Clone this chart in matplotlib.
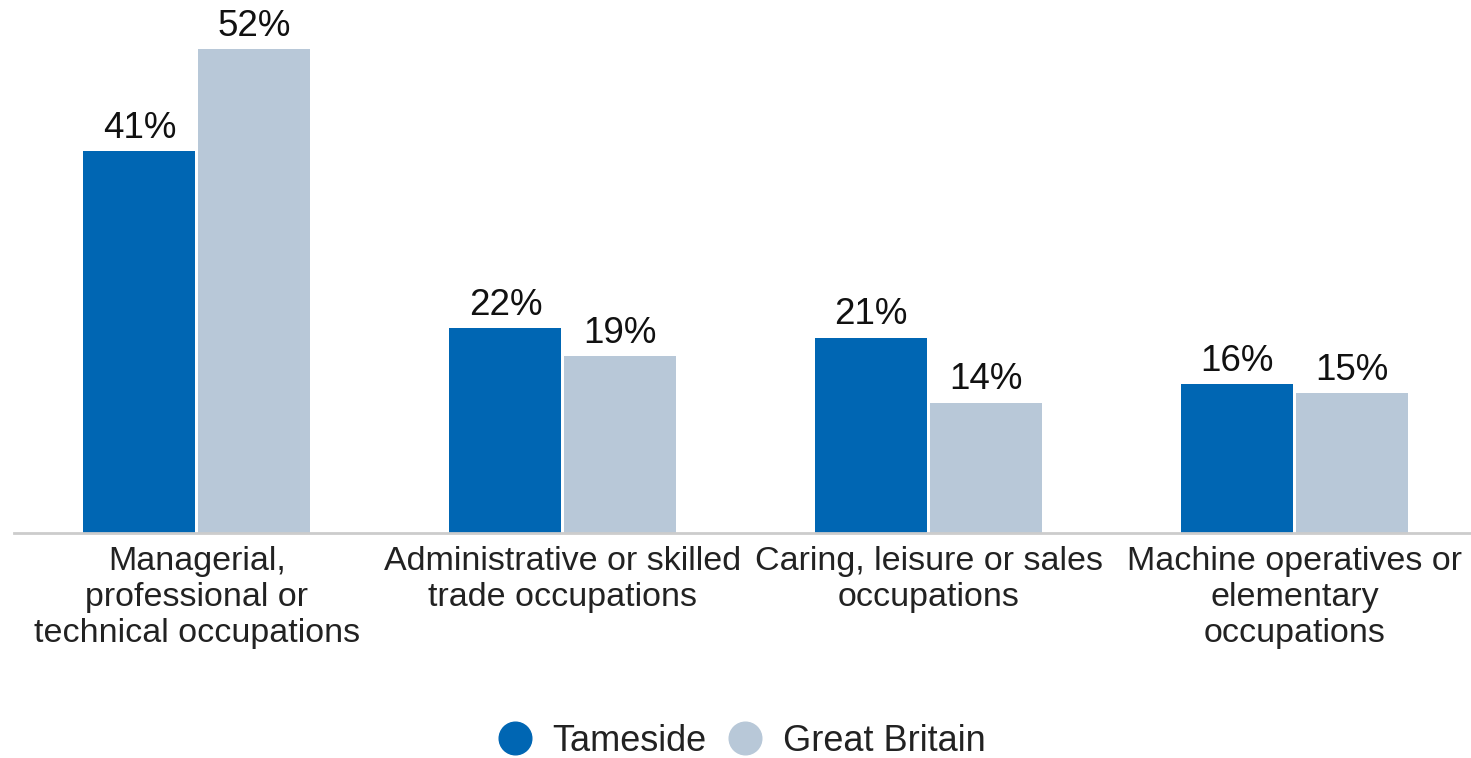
import matplotlib.pyplot as plt
import numpy as np
from matplotlib.lines import Line2D

plt.rcParams['font.family'] = ['Liberation Sans', 'DejaVu Sans']

categories = ['Managerial,\nprofessional or\ntechnical occupations',
              'Administrative or skilled\ntrade occupations',
              'Caring, leisure or sales\noccupations',
              'Machine operatives or\nelementary\noccupations']
tameside = [41, 22, 21, 16]
great_britain = [52, 19, 14, 15]
series_names = ['Tameside', 'Great Britain']
colors = ['#0066b3', '#b8c8d8']

fig = plt.figure(figsize=(14.71, 7.58), dpi=100)
ax = fig.add_axes([0.0095, 0.2968, 0.995, 0.69])

x = np.arange(len(categories))
w = 0.306
gap = 0.004
b1 = ax.bar(x - w/2 - gap, tameside, w, color=colors[0])
b2 = ax.bar(x + w/2 + gap, great_britain, w, color=colors[1])

# value labels above each bar
for bars, vals in [(b1, tameside), (b2, great_britain)]:
    for b, v in zip(bars, vals):
        ax.annotate(f'{v}%', (b.get_x() + b.get_width()/2, v),
                    xytext=(0, 4), textcoords='offset points',
                    ha='center', va='bottom', fontsize=26.5, color='#111111')

ax.set_xlim(-0.5, 3.5)
ax.set_ylim(0, 56.2)
ax.set_xticks(x)
ax.set_xticklabels(categories, fontsize=24.5, color='#222222', linespacing=1.22)
ax.tick_params(axis='x', length=0, pad=9)
ax.set_yticks([])
for s in ['top', 'right', 'left']:
    ax.spines[s].set_visible(False)
ax.spines['bottom'].set_color('#cccccc')
ax.spines['bottom'].set_linewidth(2)

handles = [Line2D([], [], marker='o', linestyle='', markersize=23.5, color=c) for c in colors]
fig.legend(handles, series_names, loc='center', bbox_to_anchor=(0.5007, 0.022),
           ncol=2, frameon=False, fontsize=26, handletextpad=0.3, columnspacing=0.3,
           handlelength=1.5, labelcolor='#222222')

fig.savefig('out.png', dpi=100)
